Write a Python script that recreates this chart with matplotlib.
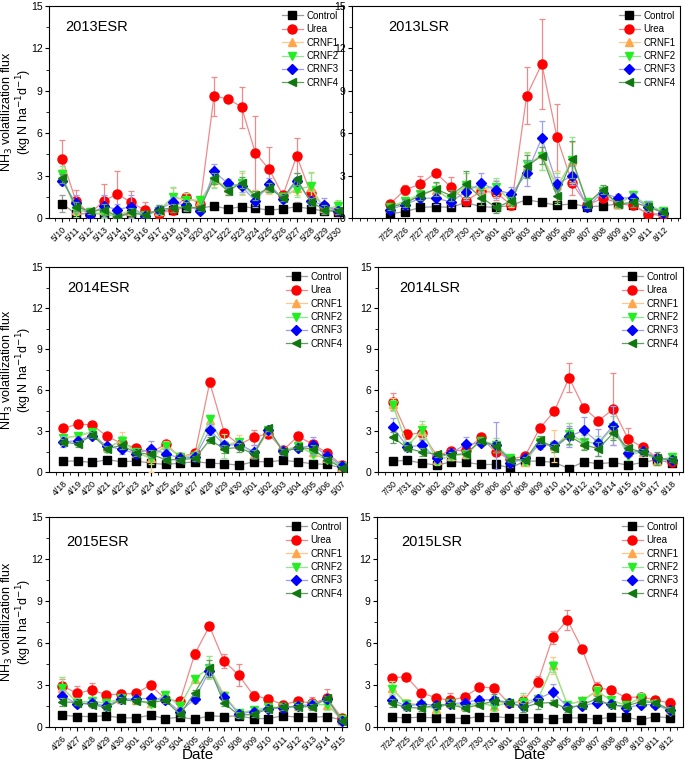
import matplotlib.pyplot as plt
from matplotlib.ticker import MultipleLocator

plt.rcParams['font.family'] = ['Liberation Sans', 'DejaVu Sans']

# ---- 2013 ESR ----
esr13_dates = ['5/10', '5/11', '5/12', '5/13', '5/14', '5/15', '5/16', '5/17', '5/18', '5/19', '5/20',
               '5/21', '5/22', '5/23', '5/24', '5/25', '5/26', '5/27', '5/28', '5/29', '5/30']
esr13_control = [1.0, 0.3, 0.3, 0.3, 0.1, 0.3, 0.3, 0.5, 0.6, 0.7, 0.7, 0.85, 0.65, 0.8, 0.7, 0.55, 0.65, 0.8, 0.65, 0.5, 0.45]
esr13_urea = [4.2, 1.2, 0.3, 1.2, 1.7, 1.1, 0.55, 0.3, 0.6, 1.5, 1.0, 8.6, 8.45, 7.85, 4.6, 3.45, 1.6, 4.4, 1.75, 0.85, 0.5]
esr13_crnf1 = [3.0, 0.6, 0.4, 0.6, 0.3, 0.5, 0.2, 0.5, 1.4, 1.3, 1.2, 2.7, 2.2, 2.4, 1.5, 2.1, 1.5, 2.1, 2.2, 0.7, 0.8]
esr13_crnf2 = [3.1, 0.5, 0.4, 0.3, 0.1, 0.5, 0.2, 0.5, 1.5, 1.3, 1.25, 2.65, 2.1, 2.5, 1.4, 2.2, 1.5, 2.0, 2.25, 0.6, 0.85]
esr13_crnf3 = [2.6, 1.05, 0.2, 0.85, 0.6, 0.8, 0.15, 0.6, 1.1, 0.9, 0.5, 3.3, 2.45, 2.25, 1.2, 2.4, 1.35, 2.6, 1.2, 0.9, 0.5]
esr13_crnf4 = [2.8, 0.8, 0.5, 0.6, 0.1, 0.4, 0.2, 0.6, 0.7, 0.8, 0.7, 2.8, 1.9, 2.5, 1.6, 2.15, 1.4, 2.75, 1.15, 0.6, 0.5]
esr13_control_err = [0.6, 0.2, 0.2, 0.2, 0.1, 0.2, 0.2, 0.2, 0.2, 0.2, 0.1, 0.1, 0.1, 0.1, 0.1, 0.1, 0.1, 0.3, 0.1, 0.1, 0.1]
esr13_urea_err = [1.35, 0.8, 0.3, 1.2, 1.65, 0.8, 0.55, 0.3, 0.4, 0.3, 0.3, 1.35, 0.2, 1.45, 2.6, 1.6, 0.2, 1.25, 0.5, 0.3, 0.2]
esr13_crnf1_err = [0.5, 0.4, 0.2, 0.4, 0.3, 0.3, 0.2, 0.3, 0.7, 0.5, 0.3, 0.5, 0.5, 0.8, 0.5, 0.4, 0.3, 0.5, 1.0, 0.3, 0.4]
esr13_crnf2_err = [0.6, 0.4, 0.2, 0.3, 0.1, 0.3, 0.2, 0.3, 0.7, 0.5, 0.3, 0.5, 0.5, 0.8, 0.5, 0.4, 0.3, 0.5, 1.0, 0.3, 0.4]
esr13_crnf3_err = [0.3, 0.6, 0.2, 0.8, 0.4, 0.8, 0.1, 0.3, 0.4, 0.3, 0.2, 0.5, 0.3, 0.4, 0.4, 0.4, 0.3, 0.3, 0.3, 0.5, 0.2]
esr13_crnf4_err = [0.3, 0.3, 0.2, 0.4, 0.1, 0.3, 0.1, 0.3, 0.3, 0.3, 0.2, 0.4, 0.3, 0.4, 0.3, 0.3, 0.2, 0.4, 0.3, 0.3, 0.2]

# ---- 2013 LSR ----
lsr13_dates = ['7/25', '7/26', '7/27', '7/28', '7/29', '7/30', '7/31', '8/01', '8/02', '8/03',
               '8/04', '8/05', '8/06', '8/07', '8/08', '8/09', '8/10', '8/11', '8/12']
lsr13_control = [0.3, 0.45, 0.75, 0.8, 0.75, 1.1, 0.8, 0.75, 0.9, 1.3, 1.1, 0.9, 1.0, 0.8, 0.85, 1.0, 0.9, 0.3, 0.15]
lsr13_urea = [1.0, 2.0, 2.4, 3.2, 2.2, 1.2, 1.9, 1.8, 0.9, 8.65, 10.9, 5.7, 2.45, 0.9, 1.4, 1.1, 0.9, 0.3, 0.3]
lsr13_crnf1 = [0.7, 1.1, 1.6, 2.0, 1.3, 2.3, 2.0, 2.1, 1.2, 3.7, 4.5, 2.3, 4.0, 1.1, 1.9, 1.0, 1.6, 0.8, 0.4]
lsr13_crnf2 = [0.8, 1.2, 1.7, 2.0, 1.3, 2.3, 2.1, 2.2, 1.2, 3.8, 4.4, 2.1, 4.1, 1.1, 1.9, 1.0, 1.6, 0.9, 0.5]
lsr13_crnf3 = [0.6, 0.95, 1.4, 1.4, 1.15, 1.85, 2.45, 2.0, 1.7, 3.15, 5.65, 2.4, 3.0, 0.8, 1.8, 1.4, 1.45, 0.8, 0.35]
lsr13_crnf4 = [0.75, 1.05, 1.6, 2.05, 1.6, 2.4, 1.45, 0.75, 1.2, 3.65, 4.4, 1.55, 4.15, 1.0, 2.0, 1.0, 1.1, 0.8, 0.4]
lsr13_control_err = [0.1, 0.1, 0.1, 0.1, 0.1, 0.2, 0.1, 0.1, 0.1, 0.1, 0.1, 0.1, 0.1, 0.1, 0.1, 0.1, 0.1, 0.1, 0.1]
lsr13_urea_err = [0.2, 0.35, 0.6, 0.2, 0.7, 0.3, 0.4, 0.5, 0.3, 2.0, 3.2, 2.4, 0.8, 0.2, 0.3, 0.2, 0.2, 0.1, 0.1]
lsr13_crnf1_err = [0.2, 0.3, 0.3, 0.5, 0.4, 0.9, 0.5, 0.6, 0.4, 0.9, 1.1, 1.0, 1.4, 0.3, 0.3, 0.2, 0.3, 0.3, 0.2]
lsr13_crnf2_err = [0.2, 0.3, 0.3, 0.5, 0.4, 0.9, 0.5, 0.6, 0.4, 0.9, 1.0, 1.1, 1.6, 0.3, 0.3, 0.2, 0.3, 0.3, 0.2]
lsr13_crnf3_err = [0.2, 0.3, 0.3, 0.4, 0.4, 0.6, 0.7, 0.6, 0.5, 0.9, 1.2, 0.5, 0.7, 0.2, 0.3, 0.3, 0.3, 0.4, 0.2]
lsr13_crnf4_err = [0.2, 0.3, 0.3, 0.5, 0.4, 0.9, 0.5, 0.4, 0.3, 0.8, 0.6, 0.4, 1.3, 0.3, 0.3, 0.2, 0.3, 0.3, 0.2]

# ---- 2014 ESR ----
esr14_dates = ['4/18', '4/19', '4/20', '4/21', '4/22', '4/23', '4/24', '4/25', '4/26', '4/27',
               '4/28', '4/29', '4/30', '5/01', '5/02', '5/03', '5/04', '5/05', '5/06', '5/07']
esr14_control = [0.8, 0.8, 0.7, 0.9, 0.75, 0.8, 0.65, 0.55, 0.65, 0.75, 0.65, 0.6, 0.5, 0.75, 0.75, 0.85, 0.75, 0.6, 0.55, 0.3]
esr14_urea = [3.2, 3.5, 3.45, 2.6, 2.1, 1.75, 1.4, 2.05, 1.1, 1.4, 6.55, 2.85, 2.0, 2.55, 2.8, 1.6, 2.6, 2.05, 1.4, 0.5]
esr14_crnf1 = [2.5, 2.6, 2.9, 1.8, 2.3, 1.4, 1.0, 2.0, 1.1, 1.3, 3.8, 2.0, 2.2, 1.3, 3.0, 1.6, 1.9, 1.5, 1.0, 0.4]
esr14_crnf2 = [2.5, 2.65, 2.95, 1.7, 2.3, 1.45, 1.0, 1.9, 1.1, 1.2, 3.85, 1.9, 2.2, 1.3, 3.1, 1.5, 1.9, 1.35, 0.9, 0.45]
esr14_crnf3 = [2.2, 2.3, 2.65, 1.9, 1.65, 1.35, 1.7, 1.35, 1.0, 1.1, 3.1, 1.95, 2.0, 1.5, 3.1, 1.55, 1.75, 1.95, 1.2, 0.45]
esr14_crnf4 = [2.2, 2.05, 2.7, 1.7, 1.95, 1.4, 1.3, 0.9, 0.9, 1.0, 2.35, 1.7, 1.8, 1.3, 3.2, 1.45, 1.8, 1.7, 0.9, 0.3]
esr14_control_err = [0.1, 0.1, 0.1, 0.1, 0.1, 0.1, 0.1, 0.1, 0.1, 0.1, 0.1, 0.1, 0.1, 0.1, 0.1, 0.1, 0.1, 0.1, 0.1, 0.1]
esr14_urea_err = [0.2, 0.3, 0.2, 0.2, 0.3, 0.1, 0.2, 0.2, 0.1, 0.1, 0.35, 0.3, 0.2, 0.55, 0.1, 0.1, 0.3, 0.2, 0.1, 0.1]
esr14_crnf1_err = [0.3, 0.2, 0.2, 0.2, 0.6, 0.2, 1.0, 0.3, 0.2, 0.2, 0.3, 0.3, 0.5, 0.3, 0.2, 0.2, 0.2, 0.4, 0.2, 0.1]
esr14_crnf2_err = [0.3, 0.2, 0.2, 0.2, 0.3, 0.2, 0.4, 0.3, 0.2, 0.2, 0.35, 0.9, 0.3, 0.3, 0.2, 0.2, 0.2, 0.4, 0.2, 0.1]
esr14_crnf3_err = [0.4, 0.2, 0.2, 0.2, 0.3, 0.2, 0.6, 0.3, 0.2, 0.2, 0.4, 0.3, 0.3, 0.5, 0.2, 0.2, 0.2, 0.6, 0.2, 0.1]
esr14_crnf4_err = [0.2, 0.2, 0.2, 0.2, 0.3, 0.2, 0.3, 0.2, 0.2, 0.2, 0.2, 0.3, 0.3, 0.3, 0.2, 0.2, 0.2, 0.3, 0.2, 0.1]

# ---- 2014 LSR ----
lsr14_dates = ['7/30', '7/31', '8/01', '8/02', '8/03', '8/04', '8/05', '8/06', '8/07', '8/08',
               '8/09', '8/10', '8/11', '8/12', '8/13', '8/14', '8/15', '8/16', '8/17', '8/18']
lsr14_control = [0.8, 0.85, 0.65, 0.5, 0.75, 0.7, 0.55, 0.55, 0.3, 0.8, 0.8, 0.7, 0.25, 0.75, 0.6, 0.7, 0.5, 0.7, 0.9, 0.65]
lsr14_urea = [5.15, 2.75, 2.85, 1.2, 1.55, 1.6, 2.55, 1.45, 0.95, 1.15, 3.2, 4.45, 6.9, 4.7, 3.75, 4.6, 2.45, 1.8, 1.05, 0.75]
lsr14_crnf1 = [5.0, 1.9, 3.0, 0.9, 1.2, 1.3, 2.3, 2.0, 1.0, 0.7, 2.2, 1.9, 2.8, 2.2, 2.1, 3.3, 1.5, 1.5, 0.8, 1.1]
lsr14_crnf2 = [4.9, 1.9, 3.1, 0.8, 1.2, 1.3, 2.3, 2.0, 1.0, 0.7, 2.2, 1.9, 2.8, 2.2, 2.1, 3.3, 1.2, 1.5, 0.8, 1.1]
lsr14_crnf3 = [3.3, 1.85, 1.95, 1.0, 1.4, 2.05, 2.1, 1.95, 0.65, 1.0, 2.0, 1.95, 2.6, 3.05, 2.15, 3.4, 1.4, 1.55, 1.05, 0.85]
lsr14_crnf4 = [2.55, 1.75, 1.45, 1.3, 1.25, 1.35, 2.3, 1.9, 0.9, 0.9, 2.35, 1.75, 2.65, 2.0, 1.7, 2.85, 1.75, 1.45, 1.0, 0.9]
lsr14_control_err = [0.1, 0.1, 0.1, 0.1, 0.1, 0.1, 0.1, 0.1, 0.1, 0.1, 0.1, 0.1, 0.1, 0.1, 0.1, 0.1, 0.1, 0.1, 0.1, 0.1]
lsr14_urea_err = [0.6, 0.3, 0.4, 0.2, 0.2, 0.2, 0.2, 0.3, 0.2, 0.2, 0.3, 0.3, 1.05, 0.3, 0.2, 2.65, 0.8, 0.2, 0.2, 0.1]
lsr14_crnf1_err = [0.4, 0.3, 0.5, 0.3, 0.3, 0.3, 0.2, 0.5, 0.2, 0.2, 0.3, 1.2, 0.8, 0.5, 0.5, 0.8, 0.3, 0.2, 0.3, 0.3]
lsr14_crnf2_err = [0.4, 0.3, 0.6, 0.3, 0.3, 0.3, 0.2, 0.5, 0.2, 0.2, 0.3, 0.4, 0.8, 0.5, 0.5, 0.8, 0.3, 0.2, 0.3, 0.3]
lsr14_crnf3_err = [0.65, 0.3, 0.4, 0.3, 0.3, 0.5, 0.2, 1.7, 0.3, 0.2, 0.3, 0.3, 0.8, 0.95, 1.0, 1.45, 0.3, 0.2, 0.2, 0.2]
lsr14_crnf4_err = [0.4, 0.2, 0.3, 0.2, 0.2, 0.2, 0.2, 0.4, 0.2, 0.2, 0.3, 0.3, 0.6, 0.4, 0.5, 0.5, 0.2, 0.2, 0.5, 0.2]

# ---- 2015 ESR ----
esr15_dates = ['4/26', '4/27', '4/28', '4/29', '4/30', '5/01', '5/02', '5/03', '5/04', '5/05',
               '5/06', '5/07', '5/08', '5/09', '5/10', '5/11', '5/12', '5/13', '5/14', '5/15']
esr15_control = [0.85, 0.75, 0.75, 0.8, 0.65, 0.65, 0.85, 0.6, 0.7, 0.55, 0.8, 0.75, 0.8, 0.6, 0.6, 0.8, 0.7, 0.7, 0.75, 0.5]
esr15_urea = [2.95, 2.4, 2.65, 2.3, 2.35, 2.4, 3.0, 2.0, 1.85, 5.2, 7.2, 4.7, 3.7, 2.25, 2.0, 1.6, 1.85, 1.7, 2.05, 0.65]
esr15_crnf1 = [2.8, 1.8, 1.8, 1.7, 2.0, 1.9, 1.7, 2.3, 1.5, 3.4, 4.3, 2.3, 1.0, 1.2, 1.4, 1.4, 1.5, 1.6, 1.6, 0.5]
esr15_crnf2 = [2.8, 1.75, 1.85, 1.7, 2.05, 1.9, 1.65, 2.3, 1.5, 3.45, 4.25, 2.2, 1.0, 1.2, 1.4, 1.4, 1.5, 1.6, 1.6, 0.55]
esr15_crnf3 = [2.25, 1.65, 1.7, 1.5, 2.0, 2.0, 2.05, 1.95, 1.1, 2.0, 4.0, 2.15, 0.95, 1.1, 1.3, 1.35, 1.5, 1.6, 2.0, 0.4]
esr15_crnf4 = [1.8, 1.75, 1.6, 1.4, 1.95, 1.85, 1.75, 1.9, 0.9, 2.45, 4.2, 1.7, 0.85, 0.9, 1.3, 1.45, 1.45, 1.45, 2.05, 0.45]
esr15_control_err = [0.1, 0.1, 0.1, 0.1, 0.1, 0.1, 0.1, 0.1, 0.1, 0.1, 0.1, 0.1, 0.1, 0.1, 0.1, 0.1, 0.1, 0.1, 0.1, 0.1]
esr15_urea_err = [0.5, 0.55, 0.5, 0.2, 0.3, 0.2, 0.15, 0.1, 0.15, 0.35, 0.25, 0.5, 0.8, 0.3, 0.3, 0.25, 0.2, 0.45, 0.65, 0.1]
esr15_crnf1_err = [0.8, 0.3, 0.3, 0.3, 0.2, 0.2, 0.2, 0.2, 0.3, 0.2, 0.8, 0.3, 0.2, 0.2, 0.2, 0.2, 0.2, 0.3, 0.4, 0.1]
esr15_crnf2_err = [0.8, 0.3, 0.3, 0.3, 0.2, 0.2, 0.2, 0.2, 0.3, 0.2, 0.8, 0.3, 0.2, 0.2, 0.2, 0.2, 0.2, 0.3, 0.4, 0.1]
esr15_crnf3_err = [0.4, 0.2, 0.3, 0.2, 0.2, 0.2, 0.2, 0.2, 0.2, 0.3, 0.4, 0.2, 0.2, 0.2, 0.2, 0.2, 0.2, 0.3, 0.2, 0.1]
esr15_crnf4_err = [0.3, 0.2, 0.2, 0.2, 0.2, 0.2, 0.2, 0.2, 0.2, 0.2, 0.6, 0.2, 0.2, 0.2, 0.2, 0.2, 0.2, 0.2, 0.2, 0.1]

# ---- 2015 LSR ----
lsr15_dates = ['7/24', '7/25', '7/26', '7/27', '7/28', '7/29', '7/30', '7/31', '8/01', '8/02',
               '8/03', '8/04', '8/05', '8/06', '8/07', '8/08', '8/09', '8/10', '8/11', '8/12']
lsr15_control = [0.7, 0.65, 0.7, 0.65, 0.65, 0.6, 0.75, 0.75, 0.65, 0.65, 0.65, 0.55, 0.65, 0.65, 0.55, 0.7, 0.7, 0.5, 0.75, 0.65]
lsr15_urea = [3.5, 3.6, 2.45, 2.1, 1.9, 2.15, 2.85, 2.8, 1.7, 1.85, 3.25, 6.4, 7.65, 5.6, 2.8, 2.65, 2.1, 2.15, 1.95, 1.7]
lsr15_crnf1 = [2.8, 1.7, 1.6, 1.3, 1.7, 1.5, 1.8, 1.5, 1.8, 1.8, 2.0, 4.4, 1.6, 1.9, 2.6, 1.9, 1.6, 2.0, 1.7, 1.2]
lsr15_crnf2 = [2.75, 1.65, 1.55, 1.3, 1.7, 1.45, 1.75, 1.45, 1.75, 1.8, 2.0, 4.35, 1.6, 1.85, 2.55, 1.9, 1.55, 2.1, 1.65, 1.1]
lsr15_crnf3 = [1.95, 1.5, 1.65, 1.55, 1.65, 1.75, 1.95, 1.95, 1.75, 1.5, 2.0, 2.5, 1.45, 1.5, 1.75, 1.65, 1.35, 1.6, 1.6, 1.25]
lsr15_crnf4 = [1.7, 1.4, 1.35, 1.55, 1.6, 1.35, 1.6, 1.85, 1.75, 1.4, 1.7, 1.75, 1.3, 1.6, 2.0, 1.55, 1.5, 1.8, 1.75, 1.25]
lsr15_control_err = [0.1, 0.1, 0.1, 0.1, 0.1, 0.1, 0.1, 0.1, 0.1, 0.1, 0.1, 0.1, 0.1, 0.1, 0.1, 0.1, 0.1, 0.1, 0.1, 0.1]
lsr15_urea_err = [0.1, 0.05, 0.1, 0.15, 0.5, 0.2, 0.1, 0.1, 0.1, 0.3, 0.4, 0.45, 0.7, 0.1, 0.4, 0.1, 0.1, 0.2, 0.2, 0.35]
lsr15_crnf1_err = [0.5, 0.3, 0.2, 0.3, 0.2, 0.2, 0.2, 0.3, 0.2, 0.5, 0.3, 0.6, 0.2, 0.2, 0.3, 0.3, 0.2, 0.3, 0.2, 0.2]
lsr15_crnf2_err = [0.4, 0.3, 0.2, 0.3, 0.2, 0.2, 0.2, 0.3, 0.2, 0.6, 0.3, 0.4, 0.2, 0.2, 0.3, 0.3, 0.2, 0.3, 0.2, 0.2]
lsr15_crnf3_err = [0.3, 0.3, 0.2, 0.2, 0.2, 0.2, 0.3, 0.3, 0.2, 0.2, 0.3, 0.6, 0.2, 0.2, 0.2, 0.2, 0.2, 0.2, 0.2, 0.2]
lsr15_crnf4_err = [0.3, 0.2, 0.2, 0.2, 0.2, 0.2, 0.2, 0.5, 0.2, 0.3, 0.4, 0.2, 0.2, 0.2, 0.2, 0.2, 0.2, 0.2, 0.2, 0.2]

labels = ['Control', 'Urea', 'CRNF1', 'CRNF2', 'CRNF3', 'CRNF4']
markers = ['s', 'o', '^', 'v', 'D', '<']
marker_colors = ['#000000', '#ff0000', '#ffa64d', '#22ee22', '#0000ff', '#117711']
line_colors = ['#9a9a9a', '#f08a8a', '#ffc98a', '#8fe88f', '#9e9ef0', '#5f9f5f']
msizes = [5.5, 6.5, 6, 6, 5.5, 6]

panels = [
    ('2013ESR', esr13_dates,
     [esr13_control, esr13_urea, esr13_crnf1, esr13_crnf2, esr13_crnf3, esr13_crnf4],
     [esr13_control_err, esr13_urea_err, esr13_crnf1_err, esr13_crnf2_err, esr13_crnf3_err, esr13_crnf4_err]),
    ('2013LSR', lsr13_dates,
     [lsr13_control, lsr13_urea, lsr13_crnf1, lsr13_crnf2, lsr13_crnf3, lsr13_crnf4],
     [lsr13_control_err, lsr13_urea_err, lsr13_crnf1_err, lsr13_crnf2_err, lsr13_crnf3_err, lsr13_crnf4_err]),
    ('2014ESR', esr14_dates,
     [esr14_control, esr14_urea, esr14_crnf1, esr14_crnf2, esr14_crnf3, esr14_crnf4],
     [esr14_control_err, esr14_urea_err, esr14_crnf1_err, esr14_crnf2_err, esr14_crnf3_err, esr14_crnf4_err]),
    ('2014LSR', lsr14_dates,
     [lsr14_control, lsr14_urea, lsr14_crnf1, lsr14_crnf2, lsr14_crnf3, lsr14_crnf4],
     [lsr14_control_err, lsr14_urea_err, lsr14_crnf1_err, lsr14_crnf2_err, lsr14_crnf3_err, lsr14_crnf4_err]),
    ('2015ESR', esr15_dates,
     [esr15_control, esr15_urea, esr15_crnf1, esr15_crnf2, esr15_crnf3, esr15_crnf4],
     [esr15_control_err, esr15_urea_err, esr15_crnf1_err, esr15_crnf2_err, esr15_crnf3_err, esr15_crnf4_err]),
    ('2015LSR', lsr15_dates,
     [lsr15_control, lsr15_urea, lsr15_crnf1, lsr15_crnf2, lsr15_crnf3, lsr15_crnf4],
     [lsr15_control_err, lsr15_urea_err, lsr15_crnf1_err, lsr15_crnf2_err, lsr15_crnf3_err, lsr15_crnf4_err]),
]

W, H = 685, 765
# axes boxes in pixels: left, right, top, bottom, xlim, title position (axes fraction)
boxes = [
    (49, 343, 6, 218, (-0.95, 20.35), (0.055, 0.90)),
    (352, 680, 6, 218, (-2.5, 19.1), (0.11, 0.90)),
    (49, 347, 267, 472, (-0.95, 19.35), (0.06, 0.90)),
    (378, 683, 267, 472, (-1.0, 19.75), (0.07, 0.90)),
    (49, 347, 517, 727, (-0.9, 19.35), (0.057, 0.88)),
    (377, 683, 517, 727, (-1.0, 19.9), (0.078, 0.88)),
]

fig = plt.figure(figsize=(W / 100, H / 100), dpi=100)

for i, (name, dates, series, errs) in enumerate(panels):
    l, r, t, b, xlim, tpos = boxes[i]
    ax = fig.add_axes([l / W, 1 - b / H, (r - l) / W, (b - t) / H])
    x = list(range(len(dates)))
    for k in range(6):
        ax.errorbar(x, series[k], yerr=errs[k], fmt='none', ecolor=line_colors[k],
                    elinewidth=0.9, capsize=2.5, capthick=0.9, zorder=2 + k)
        ax.plot(x, series[k], color=line_colors[k], lw=0.9, marker=markers[k],
                markersize=msizes[k], markerfacecolor=marker_colors[k],
                markeredgecolor=marker_colors[k], label=labels[k], zorder=3 + k)
    ax.set_ylim(0, 15)
    ax.set_xlim(*xlim)
    ax.yaxis.set_major_locator(MultipleLocator(3))
    ax.yaxis.set_minor_locator(MultipleLocator(1.5))
    ax.xaxis.set_minor_locator(MultipleLocator(0.5))
    ax.set_xticks(x)
    ax.set_xticklabels(dates, rotation=45, ha='right', rotation_mode='anchor', fontsize=6.3)
    ax.tick_params(axis='y', labelsize=7.5, direction='out', length=3, pad=1.5)
    ax.tick_params(axis='x', direction='out', length=3, pad=2)
    ax.tick_params(which='minor', length=2)
    ax.text(tpos[0], tpos[1], name, transform=ax.transAxes, fontsize=10.5, va='center')
    ax.legend(loc='upper right', frameon=False, fontsize=7, handlelength=2.2,
              handletextpad=0.3, labelspacing=0.35, borderaxespad=0.2, borderpad=0.3)
    if i % 2 == 0:
        yc = 1 - (t + b) / 2 / H
        fig.text(17 / W, yc, 'NH$_3$ volatilization flux\n(kg N ha$^{-1}$d$^{-1}$)',
                 rotation=90, ha='center', va='center', multialignment='center',
                 fontsize=9, linespacing=0.95)
    if i >= 4:
        fig.text((l + r) / 2 / W, 3 / H, 'Date', ha='center', va='bottom', fontsize=11)

fig.savefig('out.png', dpi=100)
